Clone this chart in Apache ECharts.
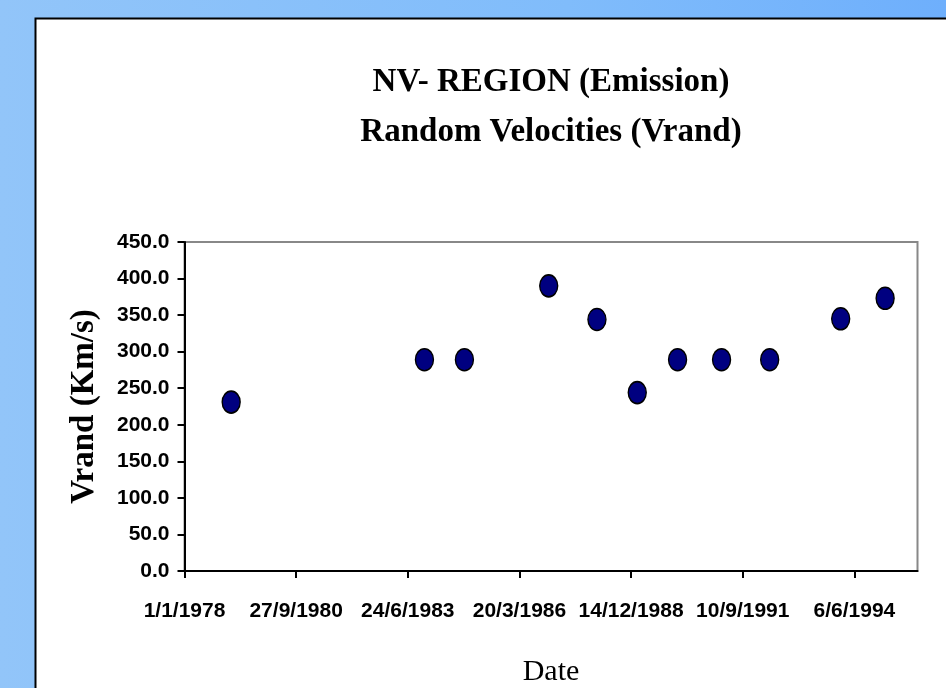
<!DOCTYPE html>
<html>
<head>
<meta charset="utf-8">
<script src="https://cdn.jsdelivr.net/npm/echarts@6/dist/echarts.min.js"></script>
<style>
html,body{margin:0;padding:0;}
body{width:946px;height:688px;background:linear-gradient(90deg,#92c5f9 0%,#80bcfb 60%,#6eaffc 100%);overflow:hidden;}
#chart{position:absolute;left:0;top:0;width:946px;height:688px;}
</style>
</head>
<body>
<div id="chart"></div>
<script>
// Data
var dates = ["1979-02-23","1983-11-20","1984-11-12","1986-12-07","1988-02-12","1989-02-07","1990-02-03","1991-03-04","1992-05-08","1994-02-03","1995-03-08"];
var vrand = [231, 289, 289, 390, 344, 244, 289, 289, 289, 345, 373];
var xOrigin = "1978-01-01";      // first tick label date
var xTickDays = 1000;             // days between x ticks
var xMaxDays = 6565;              // axis end, days after origin
var yMin = 0, yMax = 450, yStep = 50;

var DAY = 86400000;
function toDays(s){ return Math.round((Date.parse(s+"T00:00:00Z") - Date.parse(xOrigin+"T00:00:00Z"))/DAY); }
function fmtDay(d){
  var t = new Date(Date.parse(xOrigin+"T00:00:00Z") + d*DAY);
  return t.getUTCDate() + "/" + (t.getUTCMonth()+1) + "/" + t.getUTCFullYear();
}
var points = dates.map(function(d,i){ return [toDays(d), vrand[i]]; });

var chart = echarts.init(document.getElementById('chart'), null, {renderer:'canvas'});
chart.setOption({
  backgroundColor: 'transparent',
  animation: false,
  graphic: [{
    type: 'rect', z: -10, silent: true,
    shape: {x: 35.5, y: 18.5, width: 940, height: 700},
    style: {fill: '#ffffff', stroke: '#000000', lineWidth: 2}
  }],
  title: {
    text: 'NV- REGION (Emission)\nRandom Velocities (Vrand)',
    left: 551, top: 57, textAlign: 'center', padding: 0,
    textStyle: {fontFamily: '"Liberation Serif", "DejaVu Serif", serif', fontWeight: 'bold', fontSize: 33, lineHeight: 50, color: '#000'}
  },
  grid: {left: 184.5, right: 28.5, top: 242, bottom: 112.3, show: true, borderColor: '#888888', borderWidth: 2, backgroundColor: 'transparent'},
  xAxis: {
    type: 'value', min: 0, max: xMaxDays, interval: xTickDays,
    name: 'Date', nameLocation: 'middle', nameGap: 86,
    nameTextStyle: {fontFamily: '"Liberation Serif", serif', fontSize: 30, color: '#000'},
    axisLine: {show: true, onZero: false, lineStyle: {color: '#000', width: 2}},
    axisTick: {show: true, inside: false, length: 7, lineStyle: {color: '#000', width: 2}},
    axisLabel: {
      margin: 30, color: '#000', fontFamily: '"Liberation Sans", Arial, sans-serif', fontWeight: 'bold', fontSize: 21,
      showMaxLabel: false,
      formatter: function(v){ return v > xMaxDays - 1 ? '' : fmtDay(v); }
    },
    splitLine: {show: false}
  },
  yAxis: {
    type: 'value', min: yMin, max: yMax, interval: yStep,
    name: 'Vrand (Km/s)', nameLocation: 'middle', nameGap: 84, nameRotate: 90,
    nameTextStyle: {fontFamily: '"Liberation Serif", serif', fontWeight: 'bold', fontSize: 33, color: '#000'},
    axisLine: {show: true, lineStyle: {color: '#000', width: 2}},
    axisTick: {show: true, inside: false, length: 7, lineStyle: {color: '#000', width: 2}},
    axisLabel: {
      margin: 15, color: '#000', fontFamily: '"Liberation Sans", Arial, sans-serif', fontWeight: 'bold', fontSize: 21,
      formatter: function(v){ return v.toFixed(1); }
    },
    splitLine: {show: false}
  },
  series: [{
    type: 'scatter',
    data: points,
    symbol: 'path://M0,-10A8,10,0,1,1,0,10A8,10,0,1,1,0,-10Z',
    symbolSize: [18, 22],
    itemStyle: {color: '#000080', borderColor: '#000000', borderWidth: 1.5, opacity: 1}
  }]
});
</script>
</body>
</html>
